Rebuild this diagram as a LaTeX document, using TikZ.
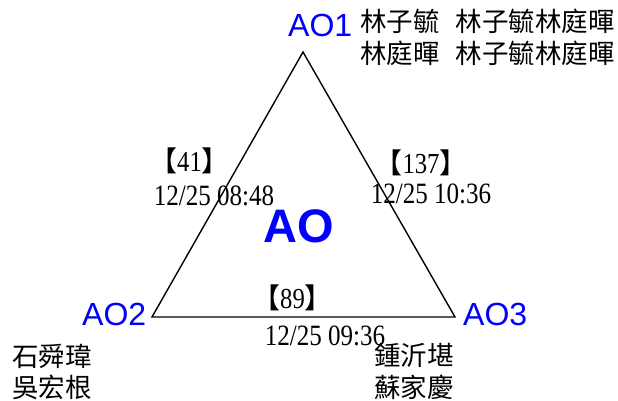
\documentclass[tikz,border=0pt]{standalone}
\usepackage{fontspec}
\setmainfont{Liberation Serif}[FakeStretch=0.85]
\newfontfamily\cjk{Noto Sans CJK TC}
\newfontfamily\arialf{Liberation Sans}

% lenticular brackets round a count
\newcommand\lenti[1]{{\cjk\fontsize{28}{30}\selectfont 【}#1{\cjk\fontsize{28}{30}\selectfont 】}}

\begin{document}
\begin{tikzpicture}[
  x=1pt, y=-1pt,
  vlab/.style={text=blue, font=\arialf\fontsize{32}{36}\selectfont, inner sep=0pt, anchor=base west},
  hub/.style={text=blue, font=\arialf\bfseries\fontsize{47}{52}\selectfont, inner sep=0pt, anchor=base},
  who/.style={font=\cjk\fontsize{26.5}{32}\selectfont, inner sep=0pt, anchor=base west},
  cnt/.style={font=\fontsize{29}{32}\selectfont, inner sep=0pt, anchor=base},
  stamp/.style={font=\fontsize{29.5}{32}\selectfont, inner sep=0pt, anchor=base},
  tri/.style={line width=1.4pt}
]
\useasboundingbox (0,0) rectangle (618,400);

% ---------- triangle ----------
\coordinate (v1) at (303,52);
\coordinate (v2) at (152,317);
\coordinate (v3) at (455,317);
\draw[tri] (v1) -- (v2) -- (v3) -- cycle;

% ---------- vertex labels ----------
\node[vlab] (ao1) at (288,36)  {AO1};
\node[vlab] (ao2) at (82,325)  {AO2};
\node[vlab] (ao3) at (463,325) {AO3};
\node[hub]  (ao)  at (299,242) {AO};

% ---------- members ----------
\node[who] (m1a) at (360,31) {林子毓\hspace{16pt}林子毓林庭暉};
\node[who] (m1b) at (360,63) {林庭暉\hspace{16pt}林子毓林庭暉};
\node[who] (m2a) at (12,366) {石舜瑋};
\node[who] (m2b) at (12,397) {吳宏根};
\node[who] (m3a) at (374,365) {鍾沂堪};
\node[who] (m3b) at (374,397) {蘇家慶};

% ---------- edge counts and times ----------
\node[cnt]   (c12) at (189.5,171) {\lenti{41}};
\node[stamp] (s12) at (214,205)   {12/25 08:48};
\node[cnt]   (c13) at (421,173)   {\lenti{137}};
\node[stamp] (s13) at (431,203)   {12/25 10:36};
\node[cnt]   (c23) at (292.5,308) {\lenti{89}};
\node[stamp] (s23) at (325,345)   {12/25 09:36};

\end{tikzpicture}
\end{document}
